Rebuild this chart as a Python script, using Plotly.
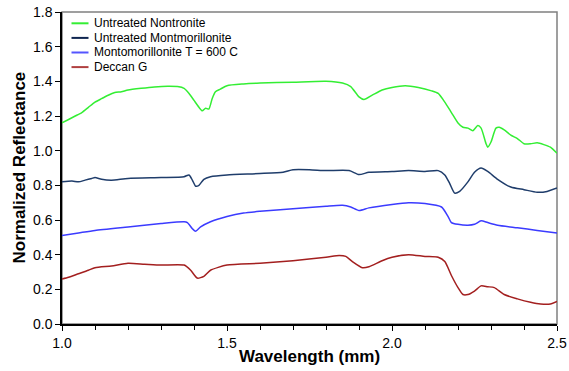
import plotly.graph_objects as go

# Untreated Nontronite
non_x = [1.00,1.02,1.04,1.06,1.08,1.10,1.12,1.14,1.16,1.18,1.20,1.24,1.28,1.32,1.35,1.37,1.385,1.40,1.415,1.425,1.435,1.445,1.455,1.465,1.48,1.50,1.55,1.60,1.70,1.80,1.85,1.875,1.90,1.915,1.94,1.97,2.00,2.04,2.08,2.12,2.14,2.16,2.18,2.20,2.215,2.23,2.245,2.26,2.27,2.285,2.29,2.30,2.315,2.325,2.34,2.36,2.38,2.40,2.42,2.44,2.46,2.48,2.50]
non_y = [1.16,1.18,1.20,1.22,1.25,1.28,1.30,1.32,1.335,1.34,1.35,1.36,1.368,1.372,1.37,1.36,1.33,1.29,1.25,1.23,1.245,1.24,1.30,1.34,1.355,1.375,1.385,1.39,1.395,1.40,1.39,1.37,1.31,1.295,1.32,1.35,1.365,1.375,1.365,1.345,1.33,1.28,1.22,1.16,1.135,1.13,1.115,1.145,1.13,1.04,1.02,1.05,1.13,1.135,1.12,1.09,1.07,1.04,1.04,1.045,1.035,1.02,0.985]

# Untreated Montmorillonite
mon_x = [1.00,1.03,1.05,1.07,1.09,1.10,1.12,1.15,1.20,1.30,1.37,1.385,1.395,1.405,1.415,1.43,1.45,1.50,1.60,1.67,1.70,1.75,1.80,1.87,1.90,1.93,2.00,2.05,2.10,2.14,2.16,2.175,2.19,2.205,2.23,2.25,2.27,2.29,2.32,2.36,2.40,2.44,2.47,2.50]
mon_y = [0.82,0.825,0.82,0.83,0.84,0.845,0.835,0.83,0.84,0.845,0.85,0.86,0.83,0.795,0.80,0.835,0.85,0.86,0.868,0.876,0.89,0.89,0.885,0.885,0.862,0.875,0.88,0.885,0.88,0.885,0.86,0.81,0.755,0.765,0.82,0.875,0.90,0.88,0.835,0.79,0.775,0.76,0.765,0.785]

# Montomorillonite T = 600 C
m600_x = [1.00,1.05,1.10,1.20,1.30,1.37,1.38,1.395,1.405,1.42,1.45,1.50,1.55,1.60,1.70,1.80,1.85,1.875,1.90,1.93,2.00,2.05,2.10,2.15,2.17,2.18,2.20,2.23,2.25,2.27,2.29,2.32,2.38,2.44,2.50]
m600_y = [0.51,0.525,0.54,0.56,0.58,0.59,0.585,0.55,0.535,0.56,0.59,0.62,0.64,0.65,0.665,0.68,0.685,0.675,0.655,0.67,0.69,0.70,0.695,0.675,0.62,0.585,0.575,0.57,0.575,0.595,0.585,0.57,0.555,0.54,0.525]

# Deccan G
dec_x = [1.00,1.02,1.05,1.08,1.10,1.15,1.20,1.25,1.30,1.37,1.39,1.41,1.43,1.45,1.50,1.60,1.70,1.80,1.84,1.86,1.88,1.91,1.93,1.97,2.00,2.05,2.10,2.14,2.16,2.18,2.20,2.215,2.23,2.25,2.27,2.29,2.31,2.34,2.38,2.42,2.45,2.48,2.50]
dec_y = [0.26,0.27,0.29,0.31,0.325,0.335,0.35,0.345,0.34,0.34,0.31,0.265,0.275,0.31,0.34,0.35,0.365,0.385,0.395,0.39,0.36,0.325,0.33,0.365,0.385,0.40,0.39,0.385,0.36,0.28,0.21,0.17,0.17,0.19,0.22,0.215,0.21,0.17,0.145,0.125,0.115,0.115,0.13]

names = ["Untreated Nontronite", "Untreated Montmorillonite", "Montomorillonite T = 600 C", "Deccan G"]
colors = ["#33ee33", "#1f3d6b", "#3b3bff", "#a31f1f"]
legend_colors = ["#33ee33", "#0f2550", "#5555ff", "#b04040"]
xs = [non_x, mon_x, m600_x, dec_x]
ys = [non_y, mon_y, m600_y, dec_y]

W, H = 569, 371
ML, MR, MT, MB = 62, 12, 12, 47
PW, PH = W - ML - MR, H - MT - MB


def px_x(p):
    return (p - ML) / PW


def px_y(p):
    return (H - MB - p) / PH


fig = go.Figure()
for n, c, x, y in zip(names, colors, xs, ys):
    fig.add_trace(go.Scatter(x=x, y=y, mode="lines", name=n, showlegend=False,
                             line=dict(color=c, width=1.5, shape="spline", smoothing=0.6)))

font = "Liberation Sans, Arial, sans-serif"

shapes = [dict(type="rect", xref="paper", yref="paper", x0=0, x1=1, y0=0, y1=1,
               line=dict(color="#808080", width=1.5), layer="below")]
annotations = []
legend_rows = [23.3, 37.9, 52.5, 67.1]
for n, c, ry in zip(names, legend_colors, legend_rows):
    shapes.append(dict(type="line", xref="paper", yref="paper",
                       x0=px_x(71.5), x1=px_x(88.5), y0=px_y(ry), y1=px_y(ry),
                       line=dict(color=c, width=2)))
    annotations.append(dict(text=n, xref="paper", yref="paper", x=px_x(92), y=px_y(ry),
                            xanchor="left", yanchor="middle", showarrow=False,
                            font=dict(size=12, family=font, color="black")))

annotations.append(dict(text="<b>Wavelength (mm)</b>", xref="paper", yref="paper",
                        x=0.5, y=px_y(356), xanchor="center", yanchor="middle", showarrow=False,
                        font=dict(size=17, family=font, color="black")))
annotations.append(dict(text="<b>Normalized Reflectance</b>", xref="paper", yref="paper",
                        x=px_x(18.5), y=0.5, xanchor="center", yanchor="middle", showarrow=False,
                        textangle=-90, font=dict(size=17, family=font, color="black")))

fig.update_layout(
    width=W, height=H,
    margin=dict(l=ML, r=MR, t=MT, b=MB),
    paper_bgcolor="white", plot_bgcolor="white",
    font=dict(family=font, size=14, color="black"),
    showlegend=False,
    xaxis=dict(range=[1.0, 2.5], tickvals=[1.0, 1.5, 2.0, 2.5], tickformat=".1f",
               automargin=False, ticklabeloverflow="allow",
               showgrid=False, zeroline=False, showline=True, linecolor="black", linewidth=1.5,
               ticks="outside", ticklen=5, tickcolor="black", tickwidth=1,
               tickfont=dict(size=14),
               minor=dict(dtick=0.1, ticks="outside", ticklen=4, tickcolor="black", tickwidth=1, showgrid=False)),
    yaxis=dict(range=[0.0, 1.8], dtick=0.2, tickformat=".1f",
               automargin=False, ticklabeloverflow="allow",
               showgrid=False, zeroline=False, showline=True, linecolor="black", linewidth=1.5,
               ticks="outside", ticklen=5, tickcolor="black", tickwidth=1,
               tickfont=dict(size=14)),
    shapes=shapes,
    annotations=annotations,
)

# remove the browser's default 8px body margin so the figure sits at the window origin
fig.write_html("out.html",
               config={"displayModeBar": False},
               post_script="document.body.style.margin='0';document.body.style.overflow='hidden';")
